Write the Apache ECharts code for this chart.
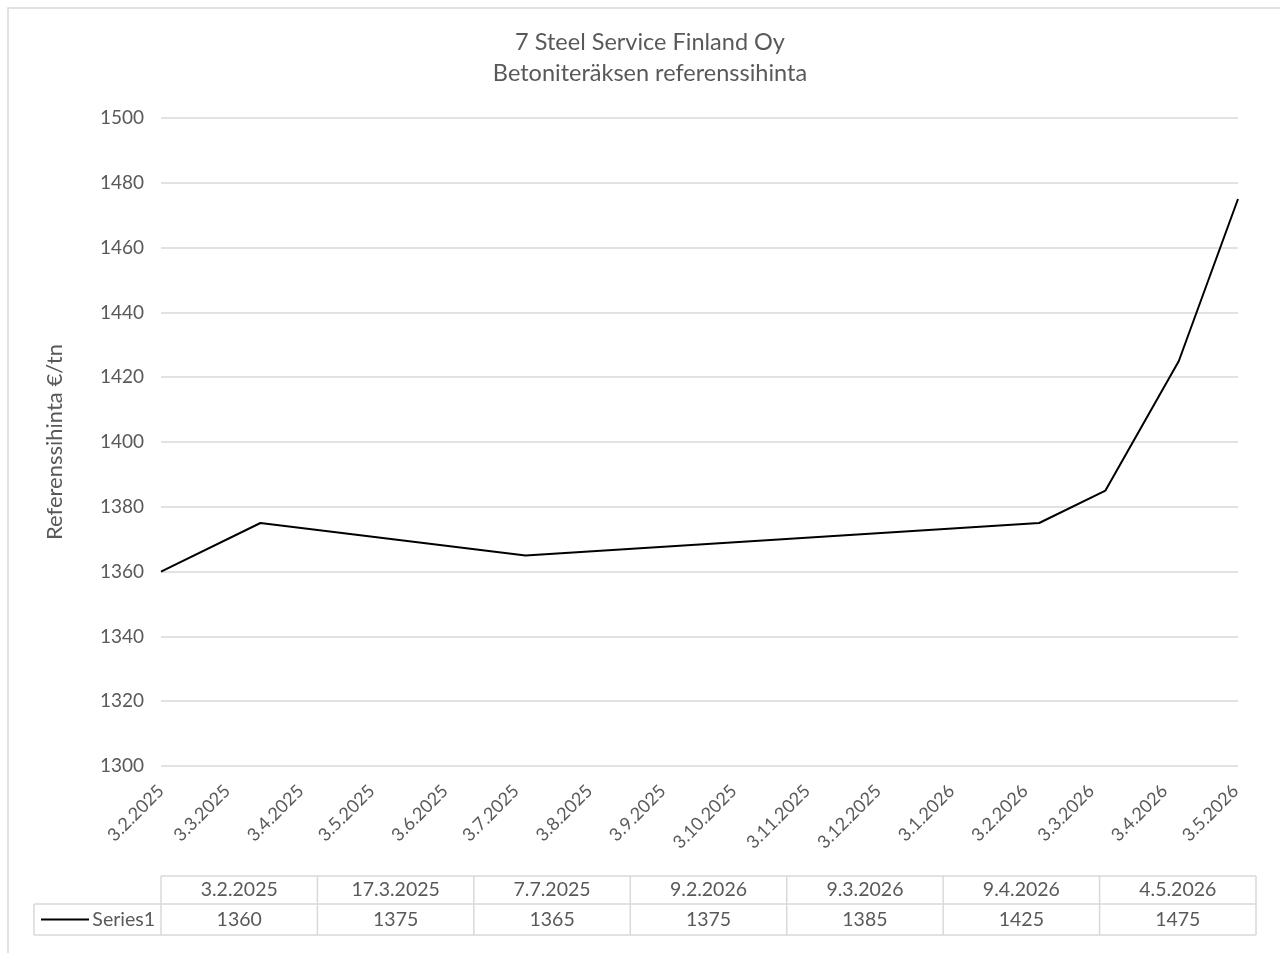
<!DOCTYPE html>
<html><head><meta charset="utf-8">
<script src="https://cdn.jsdelivr.net/npm/echarts@6/dist/echarts.min.js"></script>
<style>html,body{margin:0;padding:0;background:#fff}#c{width:1280px;height:953px}</style>
</head><body><div id="c"></div>
<script>
const titleLines = ['7 Steel Service Finland Oy', 'Betoniteräksen referenssihinta'];
const yAxisTitle = 'Referenssihinta €/tn';
const seriesName = 'Series1';
const pointDates = ['3.2.2025', '17.3.2025', '7.7.2025', '9.2.2026', '9.3.2026', '9.4.2026', '4.5.2026'];
const pointValues = [1360, 1375, 1365, 1375, 1385, 1425, 1475];
const xTickLabels = ['3.2.2025', '3.3.2025', '3.4.2025', '3.5.2025', '3.6.2025', '3.7.2025', '3.8.2025',
  '3.9.2025', '3.10.2025', '3.11.2025', '3.12.2025', '3.1.2026', '3.2.2026', '3.3.2026', '3.4.2026', '3.5.2026'];
const yMin = 1300, yMax = 1500, yStep = 20;

function parseFi(s) { const p = s.split('.').map(Number); return new Date(p[2], p[1] - 1, p[0]).getTime(); }
function fmtFi(t) { const d = new Date(t); return d.getDate() + '.' + (d.getMonth() + 1) + '.' + d.getFullYear(); }

const FONT = 'Lato, "Liberation Sans", sans-serif';
const TXT = '#595959';
const GRID = '#d9d9d9';

// data table layout
const tblLeft = 161, tblRight = 1256, tblLabelLeft = 34;
const row1Top = 876, row1Bot = 904, row2Bot = 935;
const colW = (tblRight - tblLeft) / pointDates.length;

const graphics = [];
graphics.push({ type: 'rect', shape: { x: 8, y: 8, width: 1300, height: 1000 }, style: { fill: 'none', stroke: GRID, lineWidth: 1.5 }, silent: true });
function hline(x1, x2, y) { graphics.push({ type: 'line', shape: { x1, y1: y, x2, y2: y }, style: { stroke: GRID, lineWidth: 1.5 } }); }
function vline(x, y1, y2) { graphics.push({ type: 'line', shape: { x1: x, y1, x2: x, y2 }, style: { stroke: GRID, lineWidth: 1.5 } }); }
hline(tblLeft, tblRight, row1Top);
hline(tblLabelLeft, tblRight, row1Bot);
hline(tblLabelLeft, tblRight, row2Bot);
vline(tblLabelLeft, row1Bot, row2Bot);
for (let i = 0; i <= pointDates.length; i++) vline(tblLeft + i * colW, row1Top, row2Bot);
const tblFont = '19.5px ' + FONT;
pointDates.forEach((d, i) => {
  const cx = tblLeft + (i + 0.5) * colW;
  graphics.push({ type: 'text', x: cx, y: (row1Top + row1Bot) / 2, style: { text: fmtFi(parseFi(d)), fill: TXT, font: tblFont, textAlign: 'center', textVerticalAlign: 'middle' } });
  graphics.push({ type: 'text', x: cx, y: (row1Bot + row2Bot) / 2, style: { text: String(pointValues[i]), fill: TXT, font: tblFont, textAlign: 'center', textVerticalAlign: 'middle' } });
});
graphics.push({ type: 'line', shape: { x1: 41, y1: (row1Bot + row2Bot) / 2, x2: 89, y2: (row1Bot + row2Bot) / 2 }, style: { stroke: '#000', lineWidth: 2 } });
graphics.push({ type: 'text', x: 155, y: (row1Bot + row2Bot) / 2, style: { text: seriesName, fill: TXT, font: tblFont, textAlign: 'right', textVerticalAlign: 'middle' } });

const chart = echarts.init(document.getElementById('c'), null, { renderer: 'canvas' });
chart.setOption({
  animation: false,
  backgroundColor: '#fff',
  title: {
    text: titleLines.join('\n'), left: 645, textAlign: 'center', top: 22,
    textStyle: { color: TXT, fontFamily: FONT, fontSize: 23.5, fontWeight: 'normal', lineHeight: 31 }
  },
  grid: { left: 161, right: 42, top: 118, bottom: 187, containLabel: false },
  xAxis: {
    type: 'value',
    min: parseFi(pointDates[0]),
    max: parseFi(pointDates[pointDates.length - 1]),
    axisLine: { show: false },
    axisTick: { show: false },
    splitLine: { show: false },
    axisLabel: {
      customValues: xTickLabels.map(parseFi),
      formatter: v => fmtFi(v),
      rotate: 45, margin: 22, hideOverlap: false,
      color: TXT, fontFamily: FONT, fontSize: 18
    }
  },
  yAxis: {
    type: 'value', min: yMin, max: yMax, interval: yStep,
    name: yAxisTitle, nameLocation: 'middle', nameGap: 95, nameRotate: 90,
    nameTextStyle: { color: TXT, fontFamily: FONT, fontSize: 22 },
    axisLine: { show: false }, axisTick: { show: false },
    splitLine: { lineStyle: { color: GRID, width: 1.5 } },
    axisLabel: { color: TXT, fontFamily: FONT, fontSize: 19, margin: 17, formatter: v => String(v) }
  },
  series: [{
    name: seriesName, type: 'line', symbol: 'none',
    lineStyle: { color: '#000', width: 2 },
    data: pointDates.map((d, i) => [parseFi(d), pointValues[i]])
  }],
  graphic: { elements: graphics }
});
</script></body></html>
